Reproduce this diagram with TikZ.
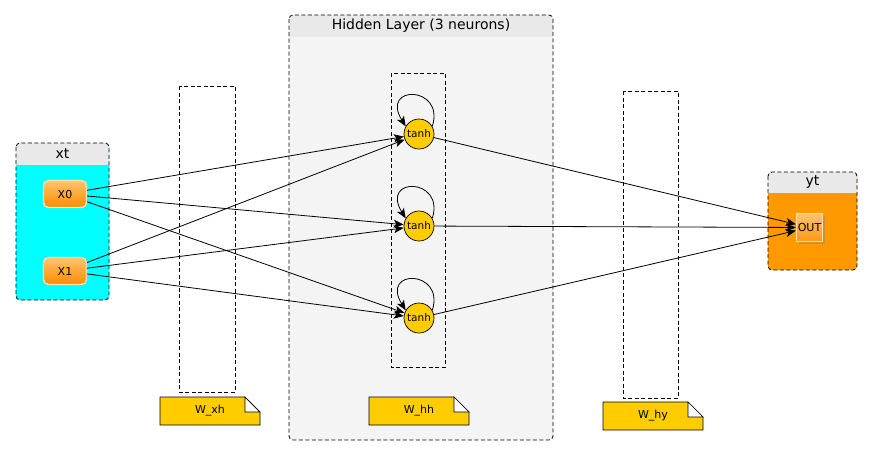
\documentclass[tikz,border=0pt]{standalone}
\usepackage{fontspec}
\setmainfont{DejaVu Sans}
\usetikzlibrary{arrows.meta,shadows,calc}
\definecolor{hdrgray}{RGB}{233,233,233}
\definecolor{layerbg}{RGB}{244,244,244}
\definecolor{xtcyan}{RGB}{0,255,255}
\definecolor{notegold}{RGB}{255,204,0}
\definecolor{ytorange}{RGB}{255,153,0}
\definecolor{btntop}{RGB}{255,196,110}
\definecolor{btnbot}{RGB}{255,140,0}
\definecolor{btnrim}{RGB}{255,224,175}

\begin{document}
\begin{tikzpicture}[x=1pt,y=-1pt,
  grpline/.style={draw=black,dash pattern=on 4pt off 2.5pt,line width=0.8pt,rounded corners=4pt},
  wbox/.style={draw=black,dash pattern=on 4pt off 2.5pt,line width=0.8pt},
  grptitle/.style={font=\fontsize{14}{16}\selectfont,inner sep=0pt},
  xin/.style={rounded corners=5pt,draw=btnrim,line width=1.4pt,top color=btntop,bottom color=btnbot,
    minimum width=43pt,minimum height=27pt,inner sep=0pt,font=\fontsize{11}{13}\selectfont},
  neuron/.style={circle,draw,fill=notegold,line width=0.7pt,minimum size=30pt,inner sep=0pt,font=\fontsize{10.5}{12}\selectfont},
  outbox/.style={draw=btnrim,line width=1.2pt,top color=btntop,bottom color=btnbot!80!btntop,drop shadow={opacity=0.35},
    minimum width=26pt,minimum height=28pt,inner sep=0pt,font=\fontsize{11}{13}\selectfont},
  notebg/.style={draw,fill=notegold,line width=0.7pt},
  notetext/.style={font=\fontsize{11}{13}\selectfont,inner sep=0pt},
  arr/.style={-{Stealth[length=10pt,width=8pt,inset=2.5pt]},line width=0.8pt}
]
\useasboundingbox (0,0) rectangle (872,456);

\foreach \g/\xa/\ya/\xb/\yb/\yh/\c/\t in {xt/16/143/109/300/165/xtcyan/xt,
    hidden/289/15/553/440/37/layerbg/{Hidden Layer (3 neurons)},
    yt/768/172/857/270/193/ytorange/yt}{
  \fill[\c,rounded corners=4pt] (\xa,\ya) rectangle (\xb,\yb);
  \begin{scope}
    \clip[rounded corners=4pt] (\xa,\ya) rectangle (\xb,\yb);
    \fill[hdrgray] (\xa,\ya) rectangle (\xb,\yh);
  \end{scope}
  \draw[grpline] (\xa,\ya) rectangle (\xb,\yb);
  \node[grptitle] (\g) at ({(\xa+\xb)/2},{(\ya+\yh)/2}) {\t};
}

\draw[wbox] (179,86) rectangle (235,392);
\draw[wbox] (391,73) rectangle (445,367);
\draw[wbox] (623,91) rectangle (678,398);

\foreach \n/\xa/\ya/\t in {wxh/160/397/W\_xh,whh/369/397/W\_hh,why/603/402/W\_hy}{
  \draw[notebg] (\xa,\ya) -- (\xa+85,\ya) -- (\xa+100,\ya+15) -- (\xa+100,\ya+28) -- (\xa,\ya+28) -- cycle;
  \draw[notebg,fill=white] (\xa+85,\ya) -- (\xa+85,\ya+15) -- (\xa+100,\ya+15) -- cycle;
  \node[notetext] (\n) at (\xa+50,\ya+14) {\t};
}

\node[xin] (x0) at (65,194) {X0};
\node[xin] (x1) at (65,271) {X1};
\node[outbox] (out) at (809.5,227.5) {OUT};

\foreach \i/\y in {1/134,2/226,3/318}{
  \node[neuron] (t\i) at (419,\y) {tanh};
  \draw[arr] (t\i.30) .. controls ($(t\i.30)+(13,-41)$) and ($(t\i.150)+(-26,-42)$) .. (t\i.150);
}

\foreach \s in {x0,x1}
  \foreach \i in {1,2,3}
    \draw[arr] (\s) -- (t\i);
\foreach \i in {1,2,3}
  \draw[arr] (t\i) -- (out);
\end{tikzpicture}
\end{document}
